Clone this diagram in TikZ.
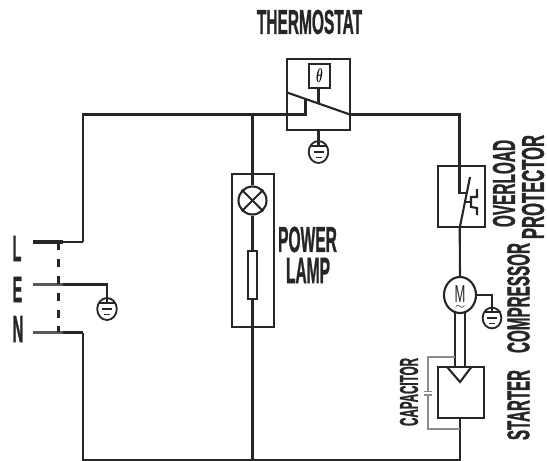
\documentclass[tikz,border=0pt]{standalone}
\usepackage{fontspec}
\usepackage{graphicx}
\newfontfamily\labelfont[BoldFeatures={FakeBold=1.5}]{Liberation Sans}
\usetikzlibrary{shapes.geometric}
\tikzset{
wire/.style = {line width=1.5pt, black!85},
capwire/.style = {line width=1pt, black!45},
part/.style = {draw=black!85, line width=1.5pt, inner sep=0pt},
lbl/.style = {black!85, inner sep=0pt},
earth/.style = {draw=black!85, line width=1.3pt, ellipse, minimum width=0.49cm, minimum height=0.55cm, inner sep=0pt},
pin/.style = {line width=2.4pt, black!65}
}
\newcommand{\lbltxt}[3]{\resizebox{#1cm}{#2cm}{\labelfont\bfseries #3}}
\newcommand{\earthlines}[1]{
\draw[wire, line width=1.1pt] ([shift={(-8.5,-6)}]#1.center) -- ++(17,0);
\draw[wire, line width=1.1pt] ([shift={(-5,0)}]#1.center) -- ++(10,0);
\draw[wire, line width=1.1pt] ([shift={(-3,5.5)}]#1.center) -- ++(6,0);
}
\begin{document}
\begin{tikzpicture}[x=0.025cm,y=-0.025cm]
\useasboundingbox (0,0) rectangle (547,461);
% thermostat
\node[part, minimum width=1.575cm, minimum height=1.775cm] (thermo) at (318.5,94.5) {};
\node[part, minimum width=0.525cm, minimum height=0.6cm] (probe) at (319.5,76) {};
\node[inner sep=0pt] (theta) at (319.5,76) {\resizebox{0.17cm}{0.34cm}{\boldmath$\theta$}};
\node[lbl] (thermotxt) at (309.5,22) {\lbltxt{2.63}{0.6}{THERMOSTAT}};
\coordinate (leverL) at (287,92.5);
\coordinate (leverR) at (350,114.5);
\coordinate (stem) at (318.5,103.5);
\draw[wire] (leverL) -- (leverR);
\draw[wire] (probe.south -| stem) -- (stem);
\coordinate (corner) at (83,114.5);
\coordinate (contact) at (305.5,114.5);
\draw[wire] (83,242) -- (corner) -- (contact) -- (305.5,98.5);
\node[earth] (gnd1) at (318.5,152) {};
\draw[wire] (thermo.south) -- ([shift={(0,-6)}]gnd1.center);
\earthlines{gnd1}
% power lamp
\node[part, minimum width=1.05cm, minimum height=3.825cm] (lampbox) at (253,250.5) {};
\node[part, circle, minimum size=0.7cm] (lamp) at (252.5,200.5) {};
\draw[wire] (lamp.north west) -- (lamp.south east);
\draw[wire] (lamp.north east) -- (lamp.south west);
\node[part, minimum width=0.225cm, minimum height=1.2cm] (fuse) at (252.5,275) {};
\coordinate (junctop) at (252.5,114.5);
\coordinate (junbot) at (252.5,460);
\draw[wire] (junctop) -- (lamp.north);
\draw[wire] (lamp.south) -- (fuse.north);
\draw[wire] (fuse.south) -- (junbot);
\node[lbl] (powertxt) at (307.5,239.5) {\lbltxt{1.47}{0.63}{POWER}};
\node[lbl] (lamptxt) at (308,270.5) {\lbltxt{1.1}{0.63}{LAMP}};
% overload protector
\node[part, minimum width=1.175cm, minimum height=1.525cm] (overload) at (461.5,196.5) {};
\coordinate (topright) at (459.5,114.5);
\draw[wire] (leverR) -- (topright) -- (459.5,193) -- (466,193);
\draw[wire] (459.7,228) -- (470,177);
\draw[wire] (466,202) -- (471,202);
\draw[wire] (477,189) -- (477,197) -- (471,197) -- (471,207) -- (477,208) -- (477,215);
\node[lbl, rotate=90] (overtxt) at (504,183.5) {\lbltxt{2.18}{0.55}{OVERLOAD}};
\node[lbl, rotate=90] (prottxt) at (533,187) {\lbltxt{2.6}{0.55}{PROTECTOR}};
% compressor
\node[part, ellipse, minimum width=0.8cm, minimum height=0.9cm] (motor) at (460,295) {};
\node[lbl] (mtxt) at (460,294.5) {\resizebox{0.27cm}{0.42cm}{\labelfont M}};
\node[inner sep=0pt] (tilde) at (460,307) {\resizebox{0.25cm}{0.1cm}{$\sim$}};
\draw[wire] (459.7,228) -- (motor.north);
\node[earth, minimum width=0.47cm, minimum height=0.52cm] (gnd3) at (492,318) {};
\draw[wire] (motor.east) -| ([shift={(0,-6)}]gnd3.center);
\earthlines{gnd3}
\node[lbl, rotate=90] (comptxt) at (518.5,298) {\lbltxt{2.75}{0.55}{COMPRESSOR}};
% starter
\node[part, minimum width=1.15cm, minimum height=1.275cm] (starter) at (461,392.5) {};
\draw[wire] (455,313) -- (455,367);
\draw[wire] (465,313) -- (465,367);
\draw[wire] (447.5,367.5) -- (460,382) -- (471,367.5);
\draw[wire] (460,418) -- (460,460) -- (83,460) -- (83,332.5);
\node[lbl, rotate=90] (starttxt) at (518.5,405) {\lbltxt{1.75}{0.55}{STARTER}};
% capacitor
\coordinate (capa) at (455,357);
\coordinate (capb) at (460,429);
\draw[capwire] (capa) -- (428,357) -- (428,391.5);
\draw[capwire] (424,391.5) -- (432,391.5);
\draw[capwire] (424,395) -- (432,395);
\draw[capwire] (428,395) -- (428,429) -- (capb);
\node[lbl, rotate=90] (captxt) at (409,392) {\lbltxt{1.7}{0.45}{CAPACITOR}};
% plug
\node[lbl] (ltxt) at (17,248.5) {\lbltxt{0.22}{0.63}{L}};
\node[lbl] (etxt) at (17.5,289.5) {\lbltxt{0.24}{0.63}{E}};
\node[lbl] (ntxt) at (18,329) {\lbltxt{0.27}{0.65}{N}};
\draw[pin, black!85] (33,242) -- (63,242);
\draw[pin] (33,284.5) -- (63,284.5);
\draw[pin] (33,332.5) -- (63,332.5);
\draw[wire] (63,242) -- (83,242);
\draw[wire] (63,332.5) -- (83,332.5);
\node[earth] (gnd2) at (107,309) {};
\draw[wire] (63,284.5) -| ([shift={(0,-6)}]gnd2.center);
\earthlines{gnd2}
\draw[wire, dash pattern=on 6pt off 6pt] (58.5,242) -- (58.5,332);
\end{tikzpicture}
\end{document}
